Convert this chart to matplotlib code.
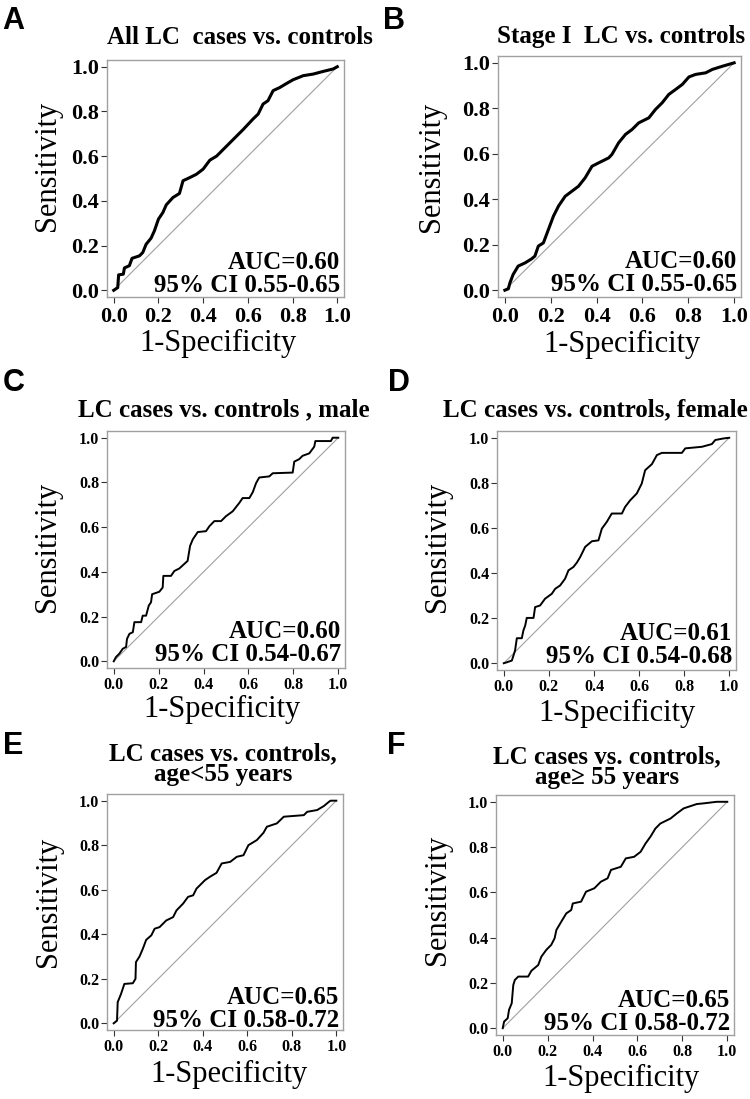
import matplotlib
matplotlib.use("Agg")
import matplotlib.pyplot as plt
import numpy as np

# ROC points (1-specificity, sensitivity)
fpr_a = [0, 0.018, 0.022, 0.043, 0.048, 0.07, 0.082, 0.115, 0.13, 0.145, 0.167, 0.182, 0.20, 0.22, 0.235,
         0.265, 0.294, 0.31, 0.34, 0.37, 0.40, 0.43, 0.46, 0.49, 0.52, 0.55, 0.58, 0.623, 0.646, 0.668,
         0.69, 0.713, 0.743, 0.773, 0.803, 0.848, 0.892, 0.937, 0.982, 1.0]
tpr_a = [0, 0.012, 0.069, 0.072, 0.10, 0.11, 0.143, 0.154, 0.169, 0.206, 0.233, 0.266, 0.318, 0.348, 0.382,
         0.415, 0.433, 0.49, 0.504, 0.519, 0.542, 0.582, 0.60, 0.63, 0.66, 0.69, 0.72, 0.766, 0.788, 0.833,
         0.848, 0.893, 0.907, 0.925, 0.942, 0.96, 0.967, 0.979, 0.99, 1.0]

fpr_b = [0, 0.015, 0.022, 0.036, 0.058, 0.088, 0.117, 0.131, 0.146, 0.168, 0.19, 0.212, 0.234, 0.263,
         0.292, 0.321, 0.35, 0.38, 0.409, 0.453, 0.467, 0.496, 0.526, 0.555, 0.584, 0.628, 0.657, 0.686,
         0.715, 0.745, 0.774, 0.803, 0.832, 0.876, 0.905, 0.949, 1.0]
tpr_b = [0, 0.006, 0.032, 0.069, 0.106, 0.12, 0.138, 0.15, 0.194, 0.208, 0.267, 0.326, 0.37, 0.413,
         0.435, 0.457, 0.494, 0.545, 0.56, 0.582, 0.597, 0.648, 0.685, 0.707, 0.736, 0.758, 0.795, 0.824,
         0.861, 0.883, 0.905, 0.938, 0.949, 0.956, 0.971, 0.985, 1.0]

fpr_c = [0, 0.01, 0.025, 0.04, 0.055, 0.059, 0.07, 0.085, 0.092, 0.122, 0.129, 0.144, 0.156, 0.166,
         0.171, 0.203, 0.218, 0.221, 0.255, 0.27, 0.292, 0.329, 0.34, 0.352, 0.374, 0.411, 0.426, 0.448,
         0.478, 0.50, 0.53, 0.559, 0.574, 0.604, 0.619, 0.634, 0.648, 0.693, 0.708, 0.797, 0.804, 0.826,
         0.841, 0.871, 0.893, 0.898, 0.967, 0.975, 1.0]
tpr_c = [0, 0.019, 0.034, 0.056, 0.064, 0.10, 0.123, 0.13, 0.175, 0.175, 0.204, 0.204, 0.249, 0.264,
         0.30, 0.311, 0.33, 0.382, 0.382, 0.404, 0.415, 0.449, 0.516, 0.545, 0.578, 0.582, 0.604, 0.627,
         0.627, 0.649, 0.671, 0.708, 0.73, 0.73, 0.756, 0.797, 0.822, 0.827, 0.841, 0.844, 0.893, 0.904,
         0.919, 0.93, 0.96, 0.985, 0.985, 1.0, 1.0]

fpr_d = [0, 0.013, 0.036, 0.05, 0.058, 0.08, 0.087, 0.095, 0.102, 0.132, 0.139, 0.161, 0.183, 0.213,
         0.228, 0.25, 0.272, 0.287, 0.309, 0.324, 0.339, 0.361, 0.391, 0.42, 0.435, 0.457, 0.479, 0.524,
         0.538, 0.561, 0.59, 0.612, 0.627, 0.657, 0.679, 0.701, 0.79, 0.805, 0.879, 0.923, 0.938, 0.975, 1.0]
tpr_d = [0, 0.004, 0.012, 0.056, 0.111, 0.111, 0.145, 0.167, 0.201, 0.201, 0.249, 0.256, 0.286, 0.308,
         0.33, 0.345, 0.375, 0.412, 0.427, 0.446, 0.471, 0.516, 0.541, 0.545, 0.597, 0.627, 0.664, 0.664,
         0.693, 0.723, 0.753, 0.797, 0.856, 0.883, 0.923, 0.933, 0.933, 0.953, 0.96, 0.972, 0.99, 0.997, 1.0]

fpr_e = [0, 0.015, 0.018, 0.033, 0.048, 0.086, 0.098, 0.10, 0.116, 0.131, 0.146, 0.169, 0.184, 0.206,
         0.236, 0.267, 0.282, 0.312, 0.334, 0.357, 0.372, 0.387, 0.41, 0.432, 0.462, 0.485, 0.523, 0.553,
         0.583, 0.605, 0.643, 0.673, 0.688, 0.733, 0.764, 0.854, 0.869, 0.914, 0.944, 0.967, 0.974, 1.0]
tpr_e = [0, 0.012, 0.095, 0.132, 0.177, 0.18, 0.20, 0.275, 0.30, 0.335, 0.375, 0.395, 0.425, 0.432,
         0.462, 0.477, 0.507, 0.538, 0.568, 0.575, 0.605, 0.62, 0.643, 0.658, 0.676, 0.718, 0.725, 0.748,
         0.755, 0.80, 0.823, 0.856, 0.883, 0.898, 0.928, 0.935, 0.95, 0.958, 0.976, 0.995, 1.0, 1.0]

fpr_f = [0, 0.006, 0.022, 0.028, 0.04, 0.047, 0.054, 0.069, 0.113, 0.128, 0.158, 0.172, 0.194, 0.216,
         0.231, 0.239, 0.261, 0.283, 0.305, 0.312, 0.349, 0.371, 0.408, 0.437, 0.467, 0.482, 0.526, 0.548,
         0.585, 0.614, 0.636, 0.658, 0.68, 0.702, 0.747, 0.776, 0.806, 0.864, 0.894, 0.953, 1.0]
tpr_f = [0, 0.029, 0.044, 0.081, 0.11, 0.191, 0.213, 0.228, 0.228, 0.254, 0.279, 0.316, 0.346, 0.368,
         0.397, 0.434, 0.471, 0.507, 0.522, 0.551, 0.559, 0.603, 0.618, 0.647, 0.662, 0.699, 0.713, 0.75,
         0.757, 0.779, 0.816, 0.846, 0.882, 0.904, 0.926, 0.949, 0.971, 0.99, 0.993, 1.0, 1.0]

letters = ["A", "B", "C", "D", "E", "F"]
titles = ["All LC  cases vs. controls", "Stage I  LC vs. controls", "LC cases vs. controls , male",
          "LC cases vs. controls, female", "LC cases vs. controls,\nage<55 years",
          "LC cases vs. controls,\nage\u2265 55 years"]
auc_text = ["AUC=0.60", "AUC=0.60", "AUC=0.60", "AUC=0.61", "AUC=0.65", "AUC=0.65"]
ci_text = ["95% CI 0.55-0.65", "95% CI 0.55-0.65", "95% CI 0.54-0.67", "95% CI 0.54-0.68",
           "95% CI 0.58-0.72", "95% CI 0.58-0.72"]
ticks = [0.0, 0.2, 0.4, 0.6, 0.8, 1.0]
tick_labels = ["0.0", "0.2", "0.4", "0.6", "0.8", "1.0"]

curves = [(fpr_a, tpr_a), (fpr_b, tpr_b), (fpr_c, tpr_c), (fpr_d, tpr_d), (fpr_e, tpr_e), (fpr_f, tpr_f)]

W, H = 750, 1099
SERIF = "Liberation Serif"

# pixel layout: (left, top, right, bottom) of each axes box
boxes = [(107, 60, 344, 297), (498, 56, 741, 297),
         (107, 431, 345, 668), (497, 431, 736, 670),
         (107, 794, 343, 1030), (496, 795, 734, 1035)]
letter_pos = [(2, 6), (383, 6), (3, 368), (388, 368), (3, 731), (387, 731)]
title_pos = [(240, 38), (621, 36), (224, 410), (595, 410), (223, 764), (607, 767)]
ylabel_pos = [(47, 166), (431, 167), (47, 547), (438, 547), (49, 902), (438, 900)]
xlabel_pos = [(218, 343), (622, 344), (222, 709), (617, 713), (229, 1074), (621, 1078)]
auc_y = [0.098, 0.098, 0.104, 0.104, 0.089, 0.096]

fig = plt.figure(figsize=(W / 100, H / 100), dpi=100)

for i in range(6):
    l, t, r, b = boxes[i]
    ax = fig.add_axes([l / W, 1 - b / H, (r - l) / W, (b - t) / H])
    fpr, tpr = curves[i]
    big = i < 2
    ax.plot([0, 1], [0, 1], color="#a0a0a0", lw=0.8)
    ax.plot(fpr, tpr, color="black", lw=2.2 if big else 1.4, solid_joinstyle="round")
    ax.set_xlim(-0.03, 1.03)
    ax.set_ylim(-0.03, 1.03)
    for s in ax.spines.values():
        s.set_color("#a0a0a0")
        s.set_linewidth(1.0)
    ax.set_xticks(ticks)
    ax.set_yticks(ticks)
    fs = 16 if big else 11.5
    ax.set_xticklabels(tick_labels, fontfamily=SERIF, fontweight="bold", fontsize=fs)
    ax.set_yticklabels(tick_labels, fontfamily=SERIF, fontweight="bold", fontsize=fs)
    ax.tick_params(length=4.5, width=0.8, color="#333333")
    ax.tick_params(axis="y", pad=1)
    ax.tick_params(axis="x", pad=3 if big else 2)

    ax.text(0.985, auc_y[i], auc_text[i] + "\n" + ci_text[i], transform=ax.transAxes,
            ha="right", va="center", multialignment="right", linespacing=1.0,
            fontfamily=SERIF, fontweight="bold", fontsize=18)

    lx, ly = letter_pos[i]
    fig.text(lx / W, 1 - ly / H, letters[i], ha="left", va="top", fontfamily="Liberation Sans",
             fontweight="bold", fontsize=22)
    tx, ty = title_pos[i]
    fig.text(tx / W, 1 - ty / H, titles[i], ha="center", va="center", fontfamily=SERIF,
             fontweight="bold", fontsize=18, linespacing=0.9)
    yx, yy = ylabel_pos[i]
    fig.text(yx / W, 1 - yy / H, "Sensitivity", ha="center", va="center", rotation=90,
             fontfamily=SERIF, fontsize=22)
    xx, xy = xlabel_pos[i]
    fig.text(xx / W, 1 - xy / H, "1-Specificity", ha="center", va="center",
             fontfamily=SERIF, fontsize=22)

fig.savefig("out.png", dpi=100)
